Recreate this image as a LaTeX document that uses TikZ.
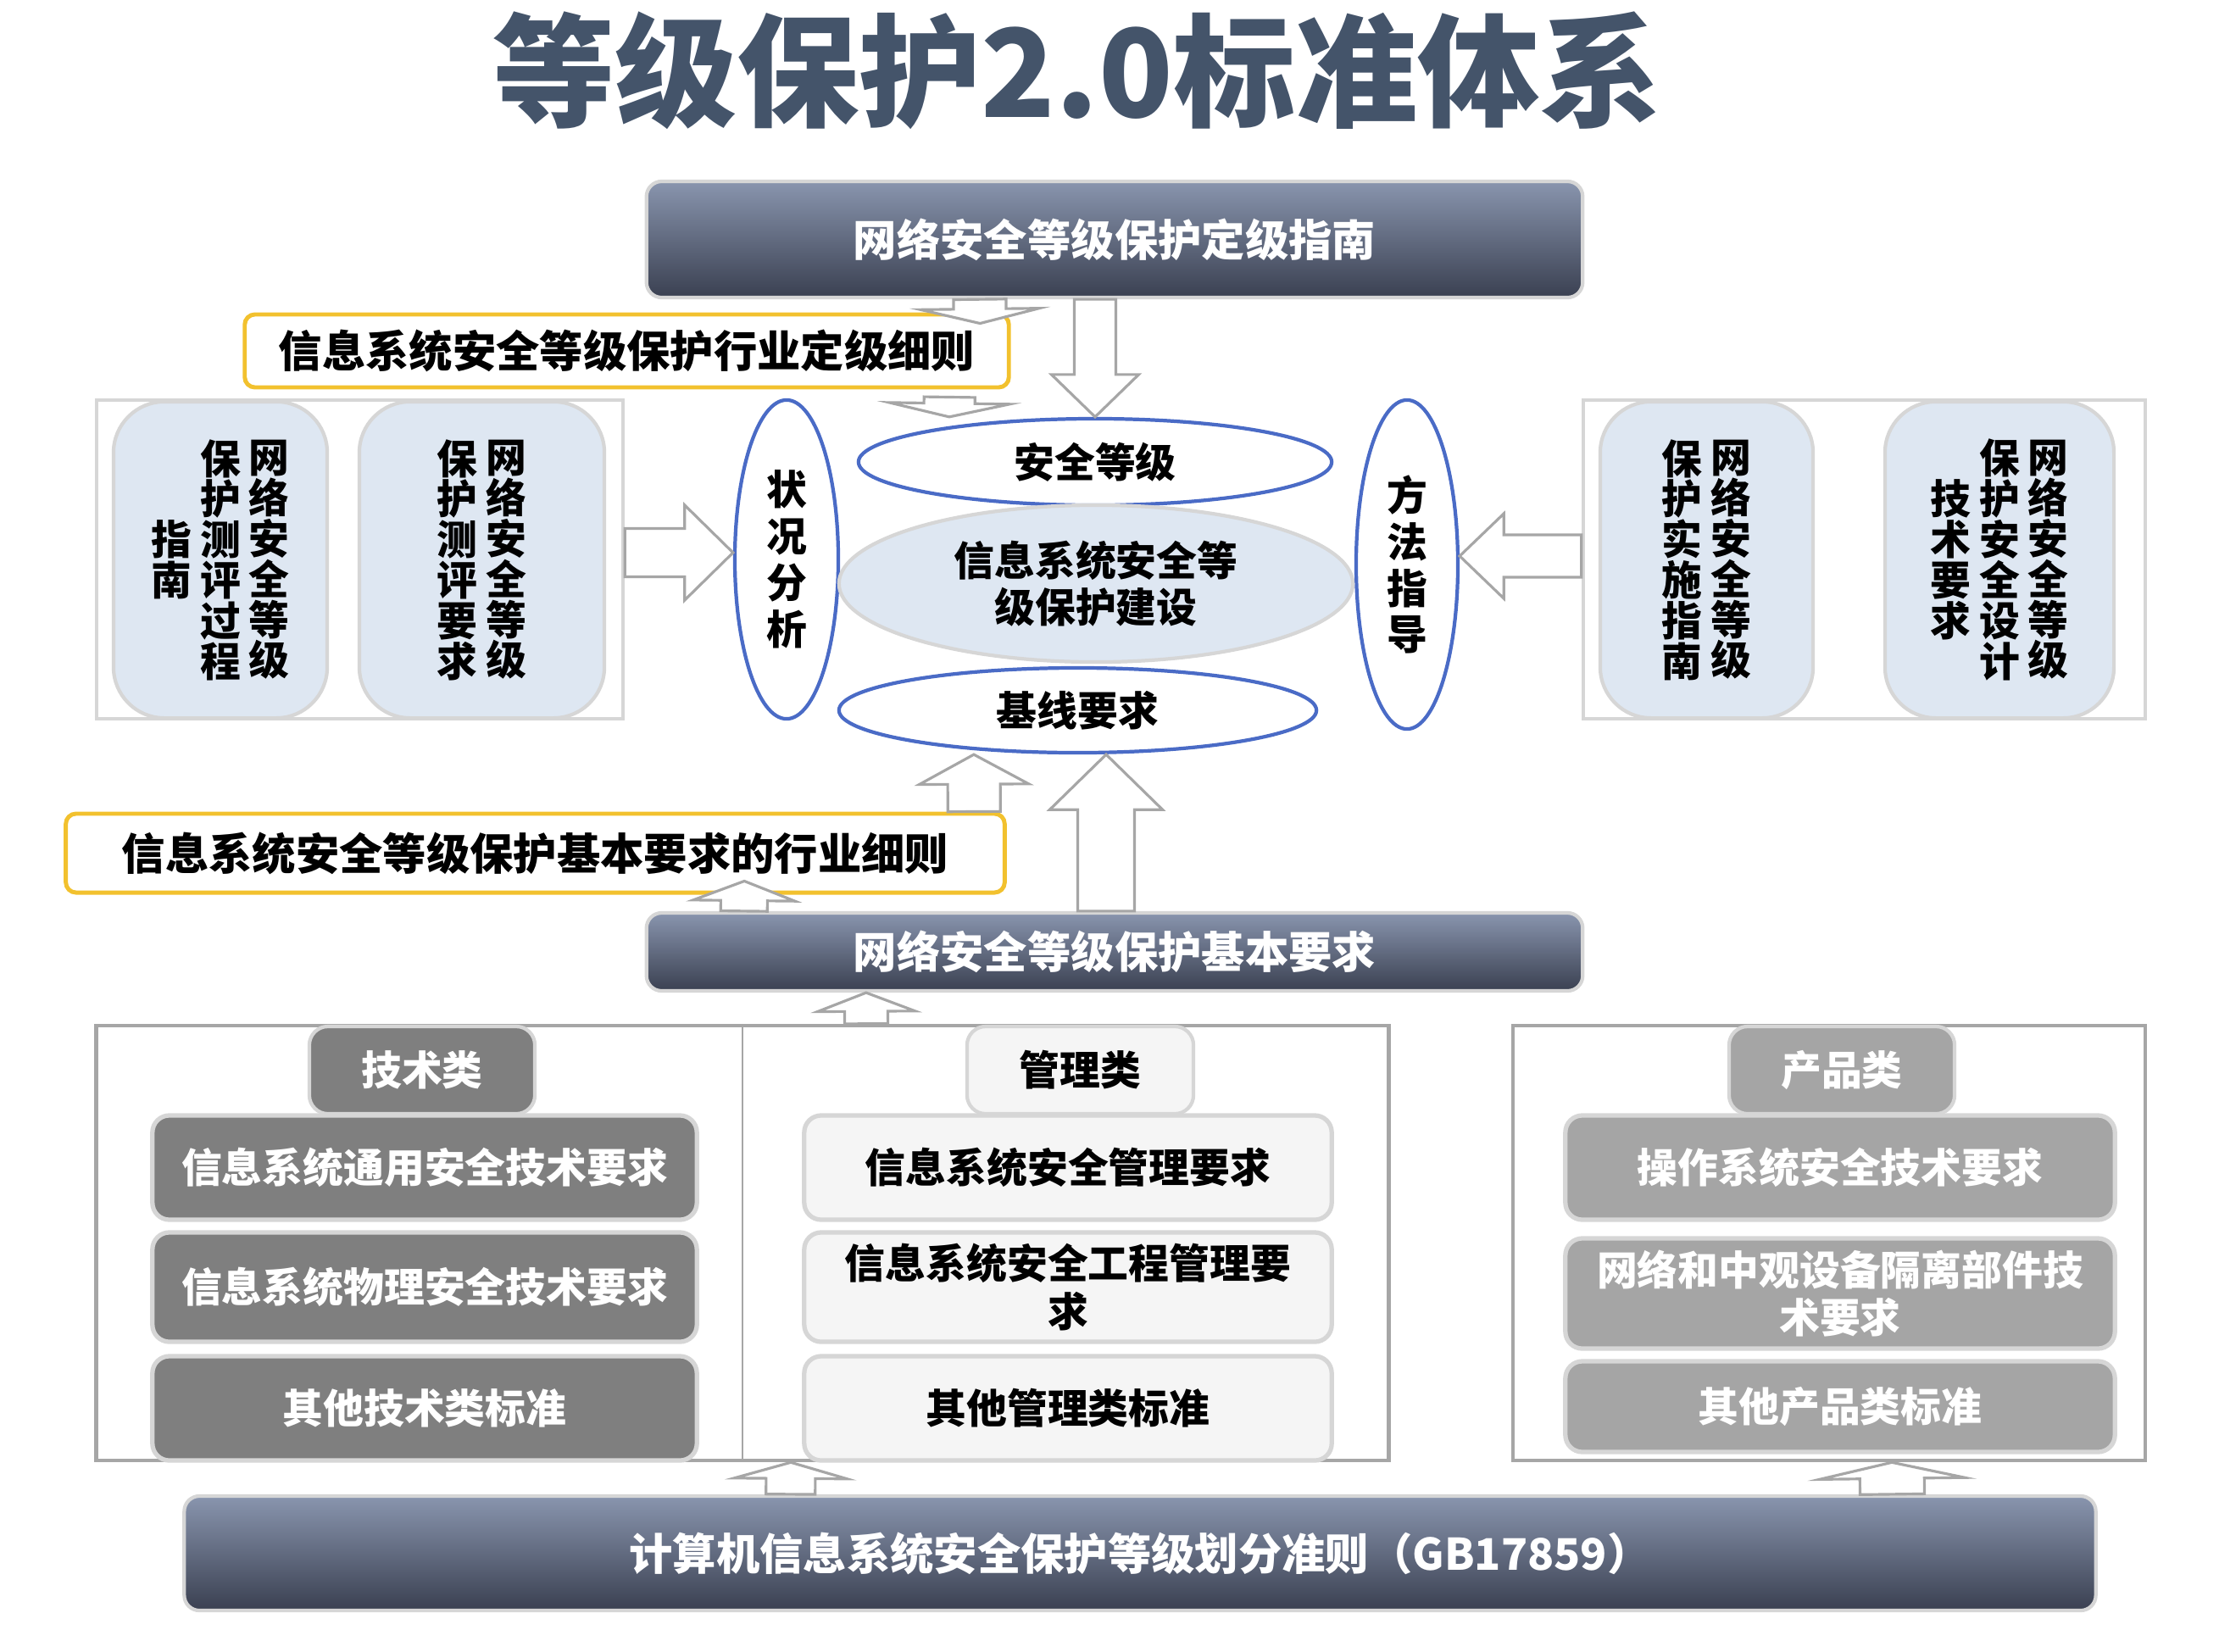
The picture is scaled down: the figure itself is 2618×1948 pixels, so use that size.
\documentclass[tikz,border=0pt]{standalone}
\usepackage{fontspec}
\setmainfont{Noto Sans CJK SC}
\usetikzlibrary{shapes.geometric,calc,positioning}

\definecolor{ardoise}{HTML}{44546A}
\definecolor{degradehaut}{HTML}{8995AE}
\definecolor{degradebas}{HTML}{3A4051}
\definecolor{bleupale}{HTML}{DEE7F2}
\definecolor{bordclair}{HTML}{D6D6D6}
\definecolor{jaune}{HTML}{F2C12E}
\definecolor{bleuovale}{HTML}{4A6BC6}
\definecolor{grisfonce}{HTML}{7F7F7F}
\definecolor{grismoyen}{HTML}{A5A5A5}
\definecolor{grisclair}{HTML}{F5F5F5}
\definecolor{grisfleche}{HTML}{A6A6A6}

% colonne de texte vertical
\newcommand\colonne[1]{\begin{minipage}[c]{1em}\centering #1\end{minipage}}

% fleche large : depart, arrivee, demi-largeur, demi-largeur de la pointe, longueur de la pointe
\newcommand\fleche[5]{%
  \coordinate (pointe) at ($#2!#5!#1$);
  \draw[flechebloc] ($#1!#3!90:#2$) -- ($(pointe)!#3!-90:#1$) -- ($(pointe)!#4!-90:#1$) -- #2
    -- ($(pointe)!#4!90:#1$) -- ($(pointe)!#3!90:#1$) -- ($#1!#3!-90:#2$) -- cycle;}

\begin{document}
\begin{tikzpicture}[x=0.01cm, y=-0.01cm, line join=miter]
\tikzset{texte/.style={font=\fontsize{13.6}{16}\selectfont\bfseries, align=center, inner sep=0},
  bandeau/.style={texte, font=\fontsize{14.6}{17}\selectfont\bfseries, rounded corners=0.18cm, draw=bordclair, line width=1.2pt, top color=degradehaut, bottom color=degradebas, text=white},
  consigne/.style={texte, font=\fontsize{14.6}{17}\selectfont\bfseries, rounded corners=0.12cm, draw=jaune, line width=1.4pt, fill=white},
  cadre/.style={rectangle, draw=bordclair, line width=1.2pt, inner sep=0},
  pave/.style={texte, font=\fontsize{13.6}{13.6}\selectfont\bfseries, rounded corners=0.6cm, fill=bleupale, draw=bordclair, line width=1.2pt},
  ovale/.style={texte, font=\fontsize{13.6}{15.6}\selectfont\bfseries, ellipse, draw=bleuovale, line width=1.2pt, fill=white},
  entete/.style={texte, rounded corners=0.22cm, draw=bordclair, line width=1.2pt, minimum width=2.66cm, minimum height=1.03cm},
  norme/.style={texte, rounded corners=0.2cm, draw=bordclair, line width=1.5pt},
  flechebloc/.style={draw=grisfleche, fill=white, line width=0.9pt}}
\useasboundingbox (0,0) rectangle (2618,1948);

\node[text=ardoise, font=\fontsize{41}{41}\selectfont\bfseries] (titre) at (1271,83) {等级保护2.0标准体系};

% partie haute
\node[bandeau, minimum width=11.04cm, minimum height=1.37cm] (haut) at (1315,282.5) {网络安全等级保护定级指南};
\node[consigne, minimum width=9.01cm, minimum height=0.86cm] (jaune1) at (739.5,414) {信息系统安全等级保护行业定级细则};

\node[cadre, minimum width=6.21cm, minimum height=3.76cm] (cadreG) at (424.5,660) {};
\node[pave, minimum width=2.52cm, minimum height=3.73cm] (g1) at (260,660.5) {\colonne{指\\南}\hspace{2.8pt}\colonne{保\\护\\测\\评\\过\\程}\hspace{2.8pt}\colonne{网\\络\\安\\全\\等\\级}};
\node[pave, minimum width=2.89cm, minimum height=3.73cm] (g2) at (568.5,660.5) {\colonne{保\\护\\测\\评\\要\\求}\hspace{2.8pt}\colonne{网\\络\\安\\全\\等\\级}};

\node[cadre, minimum width=6.63cm, minimum height=3.76cm] (cadreD) at (2199.5,660) {};
\node[pave, minimum width=2.51cm, minimum height=3.73cm] (d1) at (2013.5,660.5) {\colonne{保\\护\\实\\施\\指\\南}\hspace{2.8pt}\colonne{网\\络\\安\\全\\等\\级}};
\node[pave, minimum width=2.70cm, minimum height=3.73cm] (d2) at (2359,660.5) {\colonne{技\\术\\要\\求}\hspace{2.8pt}\colonne{保\\护\\安\\全\\设\\计}\hspace{2.8pt}\colonne{网\\络\\安\\全\\等\\级}};

\node[ovale, minimum width=1.22cm, minimum height=3.76cm] (etat) at (928,660) {状\\况\\分\\析};
\node[ovale, minimum width=1.20cm, minimum height=3.88cm] (methode) at (1660,666) {方\\法\\指\\导};
\node[ovale, minimum width=5.58cm, minimum height=1.02cm] (niveau) at (1292,545) {安全等级};
\node[ovale, draw=bordclair, fill=bleupale, minimum width=6.06cm, minimum height=1.85cm] (construction) at (1293,688.5) {信息系统安全等\\级保护建设};
\node[ovale, minimum width=5.63cm, minimum height=1.00cm] (base) at (1271.5,838) {基线要求};

\node[consigne, minimum width=11.07cm, minimum height=0.93cm] (jaune2) at (631.5,1006.5) {信息系统安全等级保护基本要求的行业细则};
\node[bandeau, minimum width=11.04cm, minimum height=0.92cm] (exig) at (1315,1123) {网络安全等级保护基本要求};

% partie basse
\node[cadre, draw=grisfleche, minimum width=15.24cm, minimum height=5.13cm] (cadreTM) at (876,1466.5) {};
\draw[grisfleche, line width=0.8pt] (cadreTM.north) -- (cadreTM.south);
\node[cadre, draw=grisfleche, minimum width=7.46cm, minimum height=5.13cm] (cadreP) at (2158,1466.5) {};

\node[entete, fill=grisfonce, text=white] (tech) at (498,1262.5) {技术类};
\node[norme, fill=grisfonce, text=white, minimum width=6.42cm, minimum height=1.23cm] (tech1) at (501,1377.5) {信息系统通用安全技术要求};
\node[norme, fill=grisfonce, text=white, minimum width=6.42cm, minimum height=1.29cm] (tech2) at (501,1518.5) {信息系统物理安全技术要求};
\node[norme, fill=grisfonce, text=white, minimum width=6.42cm, minimum height=1.23cm] (tech3) at (501,1661.5) {其他技术类标准};

\node[entete, fill=grisclair, minimum width=2.67cm] (gestion) at (1274.5,1262.5) {管理类};
\node[norme, fill=grisclair, minimum width=6.22cm, minimum height=1.23cm] (gestion1) at (1260,1377.5) {信息系统安全管理要求};
\node[norme, fill=grisclair, minimum width=6.22cm, minimum height=1.29cm] (gestion2) at (1260,1518.5) {信息系统安全工程管理要\\求};
\node[norme, fill=grisclair, minimum width=6.22cm, minimum height=1.23cm] (gestion3) at (1260,1661.5) {其他管理类标准};

\node[entete, fill=grismoyen, text=white] (produit) at (2173,1262.5) {产品类};
\node[norme, fill=grismoyen, text=white, minimum width=6.48cm, minimum height=1.23cm] (produit1) at (2171,1377.5) {操作系统安全技术要求};
\node[norme, fill=grismoyen, text=white, minimum width=6.48cm, minimum height=1.30cm] (produit2) at (2171,1526) {网络和中观设备隔离部件技\\术要求};
\node[norme, fill=grismoyen, text=white, minimum width=6.48cm, minimum height=1.07cm] (produit3) at (2171,1659.5) {其他产品类标准};

\node[bandeau, minimum width=22.54cm, minimum height=1.35cm] (bas) at (1345,1832.5) {计算机信息系统安全保护等级划分准则（GB17859）};

% fleches
\fleche{([xshift=-1.59cm]haut.south)}{([xshift=4.165cm,yshift=-0.13cm]jaune1.north)}{0.31cm}{0.70cm}{0.17cm}
\fleche{([xshift=-0.23cm]haut.south)}{(niveau.north)}{0.245cm}{0.515cm}{0.50cm}
\fleche{([xshift=3.805cm,yshift=-0.09cm]jaune1.south)}{([xshift=-1.72cm]niveau.north)}{0.30cm}{0.71cm}{0.16cm}
\fleche{([yshift=0.08cm]cadreG.east)}{([yshift=0.08cm]etat.west)}{0.285cm}{0.56cm}{0.57cm}
\fleche{([yshift=0.04cm]cadreD.west)}{([yshift=0.10cm]methode.east)}{0.25cm}{0.50cm}{0.52cm}
\fleche{([xshift=5.175cm]jaune2.north)}{([xshift=-1.225cm]base.south)}{0.31cm}{0.645cm}{0.35cm}
\fleche{([xshift=-0.10cm]exig.north)}{([xshift=0.335cm]base.south)}{0.335cm}{0.665cm}{0.65cm}
\fleche{([xshift=-4.37cm]exig.north)}{([xshift=2.465cm,yshift=0.16cm]jaune2.south)}{0.275cm}{0.60cm}{0.23cm}
\fleche{([xshift=1.46cm]cadreTM.north)}{([xshift=-2.93cm]exig.south)}{0.255cm}{0.575cm}{0.22cm}
\fleche{([xshift=-4.12cm]bas.north)}{([xshift=0.57cm]cadreTM.south)}{0.29cm}{0.665cm}{0.19cm}
\fleche{([xshift=8.87cm]bas.north)}{([xshift=0.74cm]cadreP.south)}{0.38cm}{0.855cm}{0.19cm}
\end{tikzpicture}
\end{document}
